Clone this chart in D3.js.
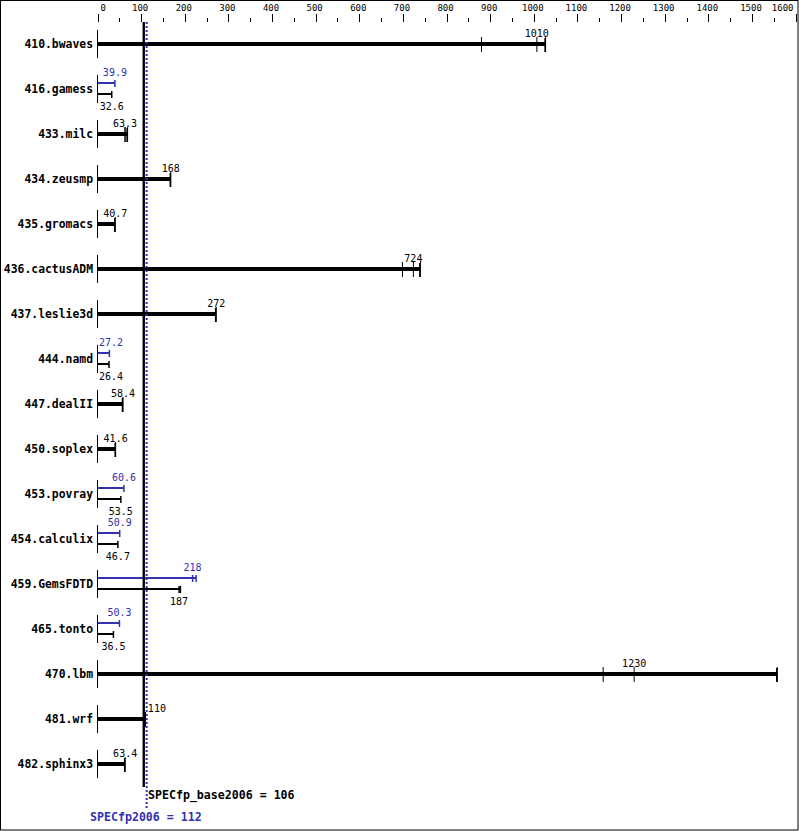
<!DOCTYPE html>
<html>
<head>
<meta charset="utf-8">
<script src="https://cdn.jsdelivr.net/npm/d3@7"></script>
<style>
  html, body { margin: 0; padding: 0; background: #fff; }
  svg { display: block; }
  text { font-family: "DejaVu Sans Mono", "Liberation Mono", monospace; }
</style>
</head>
<body>
<svg id="chart" width="799" height="831"></svg>
<script>
const benchmarks = ["410.bwaves", "416.gamess", "433.milc", "434.zeusmp", "435.gromacs",
  "436.cactusADM", "437.leslie3d", "444.namd", "447.dealII", "450.soplex", "453.povray",
  "454.calculix", "459.GemsFDTD", "465.tonto", "470.lbm", "481.wrf", "482.sphinx3"];
// base run ratios (ticks); median is labelled, bar extends to max
const baseRuns = [[880, 1007, 1027], [32.6], [62.9, 63.3, 69.0], [168], [40.7],
  [699, 724, 740], [272], [26.4], [58.4], [41.6], [53.5], [46.7], [187, 190], [36.5],
  [1159, 1230, 1558], [110], [63.4]];
// peak run ratios (null = no separate peak result)
const peakRuns = [null, [39.9], null, null, null, null, null, [27.2], null, null,
  [60.6], [50.9], [218, 226], [50.3], null, null, null];
const axisTicks = [0, 100, 200, 300, 400, 500, 600, 700, 800, 900, 1000, 1100, 1200, 1300, 1400, 1500, 1600];
const minorTicks = [50, 150, 250, 350, 450, 550, 650, 750, 850, 950, 1050, 1150, 1250, 1350, 1450, 1550];
const baseMean = 106;
const peakMean = 112;
const baseMeanLabel = "SPECfp_base2006 = 106";
const peakMeanLabel = "SPECfp2006 = 112";

const BLUE = "#3131b2";
const svg = d3.select("#chart");
const x = d3.scaleLinear().domain([0, 1600]).range([97.5, 795.6]);
const y = d3.scalePoint().domain(benchmarks).range([44, 44 + 45 * 16]);
const fmt = d3.format(".3r");
const median = r => r.slice().sort((a, b) => a - b)[Math.floor((r.length - 1) / 2)];

// border
svg.append("rect").attr("x", 0.5).attr("y", 0.5).attr("width", 797.5).attr("height", 829.5)
  .attr("fill", "none").attr("stroke", "#000").attr("stroke-width", 1);

// axis
const axis = svg.append("g").attr("transform", "translate(0,22)")
  .call(d3.axisTop(x).tickValues(axisTicks).tickSize(8).tickPadding(3.5).tickFormat(d3.format("d")));
axis.select(".domain").remove();
axis.selectAll("line").attr("stroke", "#000").attr("shape-rendering", "crispEdges");
axis.selectAll("text").attr("font-size", "9px").attr("fill", "#000")
  .attr("font-family", "DejaVu Sans Mono, monospace");
axis.selectAll(".tick").each(function(d) {
  const t = d3.select(this).select("text");
  const w = t.node().getComputedTextLength();
  const cx = x(d) - 1.5;
  let l = cx - w / 2;
  l = Math.max(100, Math.min(l, 793 - w));
  t.attr("text-anchor", "start").attr("x", l - x(d));
});
const minor = svg.append("g").attr("transform", "translate(0,22)")
  .call(d3.axisTop(x).tickValues(minorTicks).tickSize(4).tickFormat(""));
minor.select(".domain").remove();
minor.selectAll("line").attr("stroke", "#000").attr("shape-rendering", "crispEdges");

const baseX = x(baseMean), peakX = x(peakMean);

function valueLabel(g, val, yy, color) {
  const t = g.append("text").attr("y", yy).attr("font-size", "10px").attr("fill", color)
    .text(fmt(val));
  const w = t.node().getComputedTextLength();
  let l = x(val) - w / 2;
  l = Math.max(99, l);
  if (l < peakX + 1 && l + w > baseX - 2) l = peakX + 1.5;
  t.attr("x", l);
}

benchmarks.forEach((b, i) => {
  const yc = y(b);
  const g = svg.append("g");
  g.append("text").attr("x", 93).attr("y", yc + 4).attr("text-anchor", "end")
    .attr("font-size", "11.4px").attr("font-weight", "bold").attr("fill", "#000").text(b);
  g.append("line").attr("x1", x(0)).attr("x2", x(0)).attr("y1", yc - 14).attr("y2", yc + 14)
    .attr("stroke", "#000").attr("shape-rendering", "crispEdges");
  const br = baseRuns[i], pr = peakRuns[i];
  if (!pr) {
    const mx = d3.max(br);
    g.append("rect").attr("x", x(0)).attr("y", yc - 2).attr("width", x(mx) - x(0)).attr("height", 4)
      .attr("fill", "#000");
    br.forEach(v => g.append("line").attr("x1", x(v)).attr("x2", x(v))
      .attr("y1", yc - 7).attr("y2", yc + 8).attr("stroke", "#000").attr("stroke-width", 1));
    g.append("line").attr("x1", x(mx) - 0.5).attr("x2", x(mx) - 0.5)
      .attr("y1", yc - 6).attr("y2", yc + 8).attr("stroke", "#000").attr("stroke-width", 1.5);
    valueLabel(g, median(br), yc - 7.5, "#000");
  } else {
    const pm = d3.max(pr), bm = d3.max(br);
    g.append("rect").attr("x", x(0)).attr("y", yc - 7).attr("width", x(pm) - x(0)).attr("height", 2)
      .attr("fill", BLUE);
    pr.forEach(v => g.append("line").attr("x1", x(v)).attr("x2", x(v))
      .attr("y1", yc - 9).attr("y2", yc - 2).attr("stroke", BLUE).attr("stroke-width", 1.5));
    g.append("rect").attr("x", x(0)).attr("y", yc + 4).attr("width", x(bm) - x(0)).attr("height", 2)
      .attr("fill", "#000");
    br.forEach(v => g.append("line").attr("x1", x(v)).attr("x2", x(v))
      .attr("y1", yc + 2).attr("y2", yc + 9).attr("stroke", "#000").attr("stroke-width", 1.5));
    valueLabel(g, median(pr), yc - 13, BLUE);
    valueLabel(g, median(br), yc + 21, "#000");
  }
});

// mean lines
svg.append("line").attr("x1", baseX).attr("x2", baseX).attr("y1", 22).attr("y2", 787)
  .attr("stroke", "#000").attr("stroke-width", 2.4);
svg.append("line").attr("x1", peakX + 0.3).attr("x2", peakX + 0.3).attr("y1", 22).attr("y2", 808)
  .attr("stroke", BLUE).attr("stroke-width", 2).attr("stroke-dasharray", "2,2");
svg.append("text").attr("x", 148).attr("y", 799).attr("font-size", "11.6px").attr("font-weight", "bold")
  .attr("fill", "#000").text(baseMeanLabel);
svg.append("text").attr("x", peakX - 0.5).attr("y", 821).attr("text-anchor", "middle")
  .attr("font-size", "11.6px").attr("font-weight", "bold").attr("fill", BLUE).text(peakMeanLabel);
</script>
</body>
</html>
